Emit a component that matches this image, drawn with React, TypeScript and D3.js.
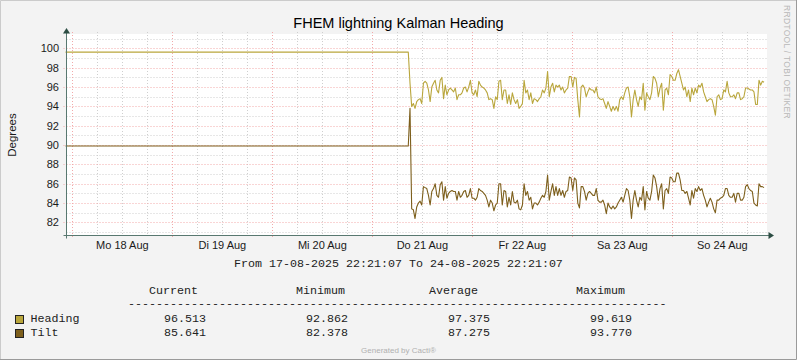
import { useEffect, useRef } from 'react';
import * as d3 from 'd3';

const WIDTH = 797;
const HEIGHT = 360;

// time range of the graph
const RANGE_START = new Date(2025, 7, 17, 22, 21, 7);
const RANGE_END = new Date(2025, 7, 24, 22, 21, 7);
// sensor was stuck until this moment, then live readings follow
const STEADY_END = new Date(2025, 7, 21, 8, 37);
const LIVE_FIRST = new Date(2025, 7, 21, 9, 2);
const LIVE_LAST = new Date(2025, 7, 24, 22, 0);

const STEADY_HEADING = 99.62;
const STEADY_TILT = 89.9;

const HEADING = [
  96.4, 94.0, 94.3, 93.8, 94.5, 94.7, 94.8, 94.3, 96.4, 96.6,
  96.4, 95.7, 94.5, 96.0, 96.4, 96.7, 95.7, 95.4, 96.7, 97.0,
  94.8, 96.2, 95.2, 95.7, 95.9, 95.7, 95.5, 95.9, 94.7, 95.2,
  95.2, 95.4, 95.9, 96.0, 95.5, 96.0, 96.7, 95.4, 95.2, 95.7,
  95.0, 96.6, 96.2, 96.0, 95.9, 95.7, 95.4, 94.7, 94.8, 94.7,
  93.8, 95.0, 94.7, 96.6, 96.7, 94.7, 95.7, 95.7, 94.3, 95.2,
  94.2, 95.4, 94.7, 94.3, 94.7, 93.8, 94.0, 94.3, 96.7, 95.4,
  95.7, 94.7, 95.4, 94.3, 94.8, 94.7, 94.5, 94.8, 95.0, 95.7,
  95.4, 95.9, 97.6, 95.0, 96.0, 96.4, 95.5, 96.2, 96.0, 96.2,
  95.7, 96.0, 95.4, 95.7, 95.9, 97.1, 97.1, 96.0, 97.0, 96.9,
  94.7, 92.9, 96.0, 96.2, 95.9, 95.0, 95.5, 95.9, 95.7, 95.7,
  95.4, 96.0, 95.0, 94.8, 94.7, 94.8, 94.3, 93.8, 94.5, 94.0,
  93.5, 94.0, 93.6, 94.0, 93.5, 94.7, 95.0, 94.7, 95.4, 95.9,
  96.0, 95.0, 92.9, 94.7, 95.7, 94.7, 94.0, 95.0, 94.7, 96.4,
  93.6, 95.4, 95.0, 94.7, 95.4, 97.1, 96.9, 96.4, 95.0, 95.9,
  96.4, 93.6, 95.7, 95.9, 95.2, 97.3, 97.1, 96.7, 96.7, 97.4,
  97.8, 97.1, 96.4, 95.7, 96.0, 95.0, 95.7, 94.5, 95.9, 95.2,
  95.9, 95.4, 96.2, 96.0, 96.4, 95.5, 95.0, 94.5, 94.7, 94.8,
  94.7, 94.0, 93.1, 95.0, 95.2, 94.7, 94.8, 95.7, 95.5, 96.6,
  95.4, 95.0, 95.0, 95.2, 94.8, 95.4, 95.4, 94.7, 94.8, 95.0,
  95.9, 95.9, 95.8, 95.7, 95.7, 95.5, 94.2, 94.2, 96.7, 96.2,
  96.6, 96.5,
];

const TILT = [
  93.8, 83.4, 83.3, 82.4, 83.6, 84.0, 84.2, 83.8, 85.7, 85.6,
  85.5, 84.8, 83.8, 85.2, 85.5, 86.0, 84.8, 84.6, 85.9, 86.2,
  84.3, 85.7, 84.5, 85.0, 85.2, 85.3, 85.2, 85.2, 84.3, 85.2,
  84.6, 84.8, 85.2, 85.3, 84.6, 84.8, 85.5, 84.5, 84.5, 84.3,
  84.6, 85.5, 85.3, 85.2, 85.0, 84.8, 84.3, 83.6, 84.3, 84.0,
  83.2, 83.8, 84.0, 86.0, 86.0, 83.8, 85.3, 85.2, 83.6, 84.6,
  83.8, 85.2, 84.1, 84.0, 84.3, 83.4, 83.3, 83.8, 86.0, 84.8,
  85.2, 84.3, 84.6, 83.4, 84.0, 84.0, 83.8, 84.1, 84.5, 84.8,
  84.6, 85.2, 86.9, 84.3, 85.2, 86.0, 84.8, 85.7, 84.8, 85.5,
  84.8, 85.3, 84.6, 85.2, 85.3, 86.7, 86.6, 85.3, 86.6, 86.4,
  84.0, 83.5, 85.7, 85.7, 85.2, 84.3, 85.0, 85.2, 85.0, 84.8,
  84.8, 85.5, 84.3, 84.1, 84.1, 84.3, 83.8, 82.9, 84.0, 83.6,
  83.4, 83.7, 83.4, 83.6, 84.0, 84.3, 84.6, 84.1, 84.8, 85.5,
  85.3, 84.3, 82.4, 84.3, 85.3, 84.3, 83.6, 84.6, 84.3, 85.7,
  83.3, 85.2, 84.5, 84.3, 85.2, 86.9, 86.6, 85.7, 84.3, 85.5,
  86.0, 83.4, 85.3, 85.5, 85.0, 86.7, 86.6, 86.2, 86.2, 87.1,
  87.1, 86.4, 85.3, 85.3, 85.0, 85.2, 84.5, 83.8, 85.3, 84.5,
  85.5, 85.2, 85.7, 85.3, 85.5, 84.8, 84.3, 83.6, 84.1, 84.5,
  84.1, 83.4, 83.0, 84.3, 84.3, 84.5, 84.6, 84.8, 85.5, 85.5,
  84.8, 84.6, 84.6, 85.0, 84.1, 85.0, 85.0, 84.3, 84.3, 84.6,
  85.7, 85.9, 85.5, 85.3, 85.2, 84.0, 83.8, 83.7, 86.0, 85.7,
  85.7, 85.6,
];

const DAY_LABELS = ['Mo 18 Aug', 'Di 19 Aug', 'Mi 20 Aug', 'Do 21 Aug', 'Fr 22 Aug', 'Sa 23 Aug', 'So 24 Aug'];

const SERIES_NAMES = ['Heading', 'Tilt'];
const SERIES_COLORS = ['#b9a63c', '#7d5f1c'];
const STAT_HEADERS = ['Current', 'Minimum', 'Average', 'Maximum'];
const CURRENT = [96.513, 85.641];
const MINIMUM = [92.862, 82.378];
const AVERAGE = [97.375, 87.275];
const MAXIMUM = [99.619, 93.77];

interface Point {
  t: Date;
  v: number;
}

const buildSeries = (steady: number, live: number[]): Point[] => {
  const step = (LIVE_LAST.getTime() - LIVE_FIRST.getTime()) / (live.length - 1);
  return [
    { t: RANGE_START, v: steady },
    { t: STEADY_END, v: steady },
    ...live.map((v, i) => ({ t: new Date(LIVE_FIRST.getTime() + i * step), v })),
  ];
};

const SANS = '"Liberation Sans", Arial, sans-serif';
const MONO = '"Liberation Mono", "DejaVu Sans Mono", monospace';

const Chart = () => {
  const svgRef = useRef<SVGSVGElement>(null);

  useEffect(() => {
    if (!svgRef.current) return;
    const svg = d3.select(svgRef.current);
    svg.selectAll('*').remove();

    const left = 66.5;
    const right = 766.5;
    const top = 34;
    const bottom = 235.5;

    const x = d3.scaleTime().domain([RANGE_START, RANGE_END]).range([65.5, 765.5]);
    const y = d3.scaleLinear().domain([80.645, 101.49]).range([bottom, top]);
    const crisp = (v: number) => Math.round(v) + 0.5;

    // background + border
    svg.append('rect').attr('width', WIDTH).attr('height', HEIGHT).attr('fill', '#f3f3f3');
    svg.append('path').attr('d', `M0.5,${HEIGHT}V0.5H${WIDTH}`).attr('fill', 'none').attr('stroke', '#cbcbcb');
    svg.append('path').attr('d', `M${WIDTH - 0.5},0V${HEIGHT - 0.5}H0`).attr('fill', 'none').attr('stroke', '#9a9a9a');

    // canvas
    svg.append('rect')
      .attr('x', left + 0.5)
      .attr('y', top)
      .attr('width', right - left)
      .attr('height', bottom - top)
      .attr('fill', '#ffffff');

    const grid = svg.append('g').attr('stroke-dasharray', '1,2').attr('fill', 'none');
    const minorColor = '#cfcfcf';
    const majorColor = '#f2aaaa';

    // minor grid
    d3.timeHour.every(6)!.range(RANGE_START, RANGE_END)
      .filter(d => d.getHours() !== 0)
      .forEach(d => {
        const px = crisp(x(d));
        grid.append('line').attr('x1', px).attr('x2', px).attr('y1', top - 2).attr('y2', bottom)
          .attr('stroke', minorColor);
      });
    d3.range(81, 102, 2).forEach(v => {
      const py = crisp(y(v));
      grid.append('line').attr('x1', left).attr('x2', right).attr('y1', py).attr('y2', py)
        .attr('stroke', minorColor);
    });

    // major grid
    d3.timeDay.range(RANGE_START, RANGE_END).forEach(d => {
      const px = crisp(x(d));
      grid.append('line').attr('x1', px).attr('x2', px).attr('y1', top - 2).attr('y2', bottom + 3)
        .attr('stroke', majorColor);
    });
    d3.range(82, 101, 2).forEach(v => {
      const py = crisp(y(v));
      grid.append('line').attr('x1', left - 3).attr('x2', right + 2).attr('y1', py).attr('y2', py)
        .attr('stroke', majorColor);
    });

    // y tick labels
    d3.range(82, 101, 2).forEach(v => {
      svg.append('text')
        .attr('x', 59)
        .attr('y', crisp(y(v)) + 3.8)
        .attr('text-anchor', 'end')
        .attr('font-family', SANS)
        .attr('font-size', 11)
        .attr('fill', '#1a1a1a')
        .text(String(v));
    });

    // x labels at noon
    DAY_LABELS.forEach((label, i) => {
      svg.append('text')
        .attr('x', x(new Date(2025, 7, 18 + i, 12)))
        .attr('y', 249)
        .attr('text-anchor', 'middle')
        .attr('font-family', SANS)
        .attr('font-size', 11)
        .attr('fill', '#1a1a1a')
        .text(label);
    });

    // data lines
    const line = d3.line<Point>()
      .x(d => x(d.t))
      .y(d => y(d.v));

    [buildSeries(STEADY_HEADING, HEADING), buildSeries(STEADY_TILT, TILT)].forEach((series, i) => {
      svg.append('path')
        .datum(series)
        .attr('d', line)
        .attr('fill', 'none')
        .attr('stroke', SERIES_COLORS[i])
        .attr('stroke-width', 1.1)
        .attr('stroke-linejoin', 'round');
    });

    // axes with arrows
    const axisColor = '#587870';
    svg.append('line').attr('x1', left).attr('x2', left).attr('y1', bottom + 3).attr('y2', 31)
      .attr('stroke', axisColor);
    svg.append('path').attr('d', `M${left - 3.5},33.5L${left},28L${left + 3.5},33.5Z`).attr('fill', '#2c4d43');
    svg.append('line').attr('x1', left - 3).attr('x2', 770).attr('y1', bottom).attr('y2', bottom)
      .attr('stroke', axisColor);
    svg.append('path').attr('d', `M768.5,${bottom - 3.5}L774,${bottom}L768.5,${bottom + 3.5}Z`).attr('fill', '#2c4d43');

    // title
    svg.append('text')
      .attr('x', 398.5)
      .attr('y', 28)
      .attr('text-anchor', 'middle')
      .attr('font-family', SANS)
      .attr('font-size', 14.5)
      .attr('fill', '#000')
      .text('FHEM lightning Kalman Heading');

    // vertical label
    svg.append('text')
      .attr('transform', 'translate(15.5,135) rotate(-90)')
      .attr('text-anchor', 'middle')
      .attr('font-family', SANS)
      .attr('font-size', 11.5)
      .attr('fill', '#1a1a1a')
      .text('Degrees');

    // watermark
    svg.append('text')
      .attr('transform', 'translate(783.5,5) rotate(90)')
      .attr('font-family', SANS)
      .attr('font-size', 8.5)
      .attr('letter-spacing', 0.3)
      .attr('fill', '#b8b8b8')
      .text('RRDTOOL / TOBI OETIKER');

    // time range
    const fmt = d3.timeFormat('%d-%m-%Y %H:%M:%S');
    svg.append('text')
      .attr('x', 398.5)
      .attr('y', 266.5)
      .attr('text-anchor', 'middle')
      .attr('font-family', MONO)
      .attr('font-size', 11.67)
      .attr('fill', '#222')
      .text(`From ${fmt(RANGE_START)} To ${fmt(RANGE_END)}`);

    // legend
    const legend = svg.append('g').attr('font-family', MONO).attr('font-size', 11.67).attr('fill', '#222');
    const headerX = [149, 296, 429, 576];
    const valueRight = [206, 348, 490, 632];
    STAT_HEADERS.forEach((h, i) => {
      legend.append('text').attr('x', headerX[i]).attr('y', 294).text(h);
    });
    legend.append('text').attr('x', 128).attr('y', 307).text('-'.repeat(77));

    const stats = [CURRENT, MINIMUM, AVERAGE, MAXIMUM];
    SERIES_NAMES.forEach((name, r) => {
      const by = 322 + r * 14;
      legend.append('rect')
        .attr('x', 15.5).attr('y', by - 6.5).attr('width', 8).attr('height', 8)
        .attr('fill', SERIES_COLORS[r]).attr('stroke', '#222');
      legend.append('text').attr('x', 30.5).attr('y', by).text(name);
      stats.forEach((col, c) => {
        legend.append('text')
          .attr('x', valueRight[c])
          .attr('y', by)
          .attr('text-anchor', 'end')
          .text(col[r].toFixed(3));
      });
    });

    svg.append('text')
      .attr('x', 398.5)
      .attr('y', 353)
      .attr('text-anchor', 'middle')
      .attr('font-family', SANS)
      .attr('font-size', 8)
      .attr('fill', '#b0b0b0')
      .text('Generated by Cacti®');
  }, []);

  return <svg ref={svgRef} width={WIDTH} height={HEIGHT} style={{ display: 'block' }} />;
};

export default function App() {
  return (
    <>
      <style>{'body{margin:0}'}</style>
      <Chart />
    </>
  );
}
